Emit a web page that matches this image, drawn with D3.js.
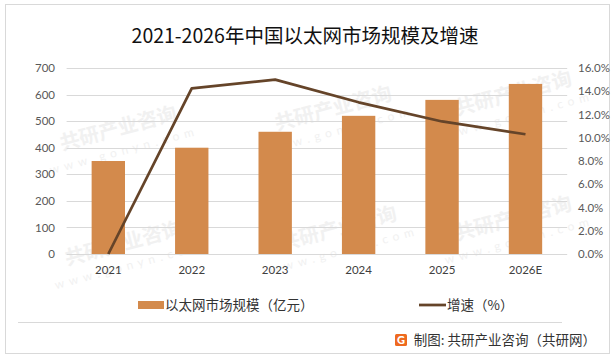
<!DOCTYPE html>
<html><head><meta charset="utf-8">
<script src="https://cdn.jsdelivr.net/npm/d3@7/dist/d3.min.js"></script>
<style>body{margin:0;background:#fff}svg{display:block}</style>
</head><body>
<svg id="c" width="615" height="359"></svg>
<script>
const categories = ["2021","2022","2023","2024","2025","2026E"];
const marketSize = [350, 400, 460, 520, 580, 640];
const growthRate = [0, 14.25, 15.0, 13.05, 11.4, 10.3];
const leftTicks = [0,100,200,300,400,500,600,700];
const rightTicks = [0,2,4,6,8,10,12,14,16];
const title = "2021-2026年中国以太网市场规模及增速";
const legendBar = "以太网市场规模（亿元）";
const legendLine = "增速（%）";
const sourceText = "制图: 共研产业咨询（共研网）";

const svg = d3.select("#c");
const cjk = "'Noto Sans CJK SC','Noto Sans',sans-serif";
const num = "Lato,'Open Sans',sans-serif";

// frame
svg.append("rect").attr("x",5.5).attr("y",4.5).attr("width",604).attr("height",349)
  .attr("fill","#fff").attr("stroke","#d9d9d9");

// watermarks (kept inside the frame)
const wm = svg.append("g").attr("fill","#f1f1f1").attr("font-family",cjk).attr("font-weight",700);
[[120,135],[335,115],[515,100],[125,250],[340,235],[515,225]].forEach(([x,y])=>{
  const g = wm.append("g").attr("transform",`translate(${x},${y}) rotate(-15)`);
  g.append("text").attr("font-size",20).attr("text-anchor","middle").text("共研产业咨询");
  g.append("text").attr("y",20).attr("font-size",12).attr("font-family",num).attr("font-weight",400)
   .attr("letter-spacing",5).attr("text-anchor","middle").text("www.gonyn.com");
});

const x = d3.scaleBand().domain(categories).range([66.6,567.2]).paddingInner(0.6).paddingOuter(0.3);
const yL = d3.scaleLinear().domain([0,700]).range([254,68]);
const yR = d3.scaleLinear().domain([0,16]).range([254,68]);

// gridlines
svg.append("g").selectAll("line").data(leftTicks).join("line")
  .attr("x1",66.6).attr("x2",567.2)
  .attr("y1",d=>Math.round(yL(d))+0.5).attr("y2",d=>Math.round(yL(d))+0.5)
  .attr("stroke","#d9d9d9").attr("stroke-width",1);

// left axis
const la = svg.append("g").attr("transform","translate(66,0)")
  .call(d3.axisLeft(yL).tickValues(leftTicks).tickSize(0).tickPadding(11));
la.select(".domain").remove();
la.selectAll("text").attr("font-family",num).attr("font-size",11.5).attr("fill","#595959");

// right axis
const ra = svg.append("g").attr("transform","translate(567,0)")
  .call(d3.axisRight(yR).tickValues(rightTicks).tickSize(0).tickPadding(11).tickFormat(d=>d.toFixed(1)+"%"));
ra.select(".domain").remove();
ra.selectAll("text").attr("font-family",num).attr("font-size",11.5).attr("fill","#595959");

// x axis labels
const xa = svg.append("g").attr("transform","translate(0,254)")
  .call(d3.axisBottom(x).tickSize(0).tickPadding(12));
xa.select(".domain").remove();
xa.selectAll("text").attr("font-family",num).attr("font-size",11.5).attr("fill","#404040");

// bars
svg.append("g").selectAll("rect").data(categories).join("rect")
  .attr("x",d=>x(d)).attr("width",x.bandwidth())
  .attr("y",(d,i)=>yL(marketSize[i])).attr("height",(d,i)=>yL(0)-yL(marketSize[i]))
  .attr("fill","#D38A4C");

// line
const line = d3.line().x((d,i)=>x(categories[i])+x.bandwidth()/2).y(d=>yR(d));
svg.append("path").datum(growthRate).attr("d",line)
  .attr("fill","none").attr("stroke","#654429").attr("stroke-width",2.75)
  .attr("stroke-linejoin","round").attr("stroke-linecap","butt");

// title
svg.append("text").attr("x",305).attr("y",43).attr("text-anchor","middle")
  .attr("font-family",cjk).attr("font-size",19.5).attr("fill","#111").text(title);

// legend
const lg = svg.append("g").attr("font-family",cjk).attr("font-size",13.5).attr("fill","#333");
lg.append("rect").attr("x",138).attr("y",301).attr("width",26).attr("height",8).attr("fill","#D38A4C");
lg.append("text").attr("x",165).attr("y",310).text(legendBar);
lg.append("line").attr("x1",419).attr("x2",446).attr("y1",305).attr("y2",305)
  .attr("stroke","#654429").attr("stroke-width",2.75);
lg.append("text").attr("x",447).attr("y",310).text(legendLine);

// separator
svg.append("line").attr("x1",18).attr("x2",562).attr("y1",322.5).attr("y2",322.5)
  .attr("stroke","#d9d9d9");

// source with logo
const lx = 395, ly = 334;
svg.append("rect").attr("x",lx).attr("y",ly).attr("width",12).attr("height",12).attr("rx",1.5).attr("fill","#EE6A1F");
svg.append("text").attr("x",lx+6).attr("y",ly+10).attr("text-anchor","middle")
  .attr("font-family",num).attr("font-weight",900).attr("font-size",11).attr("fill","#fff").text("G");
svg.append("text").attr("x",596).attr("y",345).attr("text-anchor","end")
  .attr("font-family",cjk).attr("font-size",13.5).attr("fill","#333").text(sourceText);
</script>
</body></html>
